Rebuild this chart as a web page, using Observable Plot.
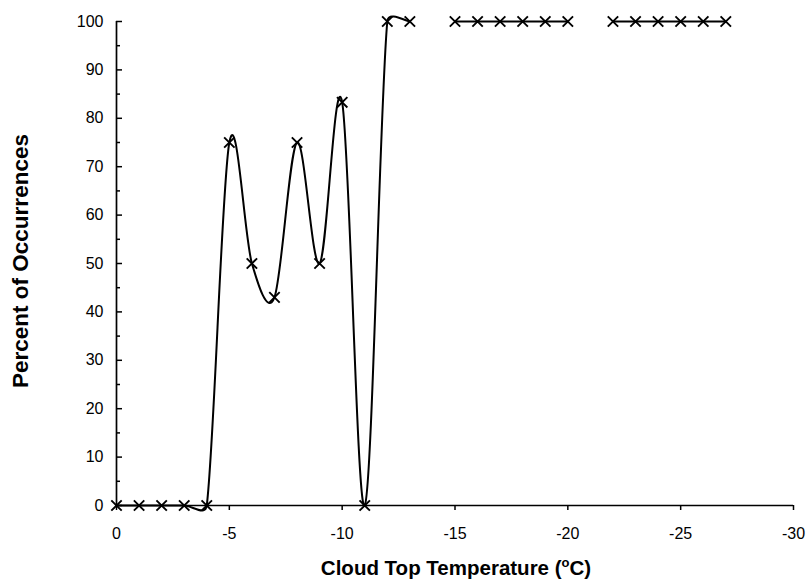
<!DOCTYPE html>
<html>
<head>
<meta charset="utf-8">
<script src="https://cdn.jsdelivr.net/npm/d3@7"></script>
<script src="https://cdn.jsdelivr.net/npm/@observablehq/plot@0.6"></script>
<style>
  html, body { margin: 0; padding: 0; background: #fff; }
  svg { display: block; }
</style>
</head>
<body>
<div id="chart"></div>
<script>
// Cloud top temperature (°C) and percent of occurrences (null = no data)
const temperatures = [0, -1, -2, -3, -4, -5, -6, -7, -8, -9, -10, -11, -12, -13, -14,
                      -15, -16, -17, -18, -19, -20, -21, -22, -23, -24, -25, -26, -27];
const percents = [0, 0, 0, 0, 0, 75, 50, 43, 75, 50, 83.3, 0, 100, 100, null,
                  100, 100, 100, 100, 100, 100, null, 100, 100, 100, 100, 100, 100];
const xTicks = [0, -5, -10, -15, -20, -25, -30];
const xTickLabels = ["0", "-5", "-10", "-15", "-20", "-25", "-30"];
const yTicks = [0, 10, 20, 30, 40, 50, 60, 70, 80, 90, 100];
const yMinorTicks = [5, 15, 25, 35, 45, 55, 65, 75, 85, 95];
const xTitle = "Cloud Top Temperature (";
const xTitleSup = "o";
const xTitleEnd = "C)";
const yTitle = "Percent of Occurrences";

const data = temperatures.map((t, i) => ({t, p: percents[i]}));
const font = "'Liberation Sans', Arial, Helvetica, sans-serif";

// Spreadsheet-style smoothed line (Bezier with 1/6 tangents, arms capped at half a segment)
function smoothCurve(context) {
  let pts = [];
  const dist = (a, b) => Math.hypot(b[0] - a[0], b[1] - a[1]);
  return {
    areaStart() {}, areaEnd() {},
    lineStart() { pts = []; },
    point(x, y) { pts.push([+x, +y]); },
    lineEnd() {
      const n = pts.length;
      if (!n) return;
      context.moveTo(pts[0][0], pts[0][1]);
      if (n === 1) { context.lineTo(pts[0][0], pts[0][1]); return; }
      for (let i = 0; i < n - 1; i++) {
        const p0 = pts[Math.max(i - 1, 0)], p1 = pts[i], p2 = pts[i + 1], p3 = pts[Math.min(i + 2, n - 1)];
        const d12 = dist(p1, p2), d02 = dist(p0, p2), d13 = dist(p1, p3);
        let f1 = 1 / 6, f2 = 1 / 6;
        if (d02 / 6 > d12 / 2 && d02 > 0) f1 = d12 / (2 * d02);
        if (d13 / 6 > d12 / 2 && d13 > 0) f2 = d12 / (2 * d13);
        const c1 = [p1[0] + f1 * (p2[0] - p0[0]), p1[1] + f1 * (p2[1] - p0[1])];
        const c2 = [p2[0] - f2 * (p3[0] - p1[0]), p2[1] - f2 * (p3[1] - p1[1])];
        context.bezierCurveTo(c1[0], c1[1], c2[0], c2[1], p2[0], p2[1]);
      }
    }
  };
}

const chart = Plot.plot({
  width: 808,
  height: 581,
  marginLeft: 116,
  marginRight: 15,
  marginTop: 21,
  marginBottom: 76,
  style: {fontFamily: font, fontSize: "16px", color: "black", background: "white"},
  x: {domain: [0, -30], label: null},
  y: {domain: [0, 100], label: null},
  marks: [
    Plot.axisX({ticks: xTicks, tickFormat: d => xTickLabels[xTicks.indexOf(d)], tickSize: 5, tickPadding: 17, strokeWidth: 1.5, fontSize: 16, label: null}),
    Plot.axisY({ticks: yTicks, tickSize: -6, text: null, strokeWidth: 1.5, label: null}),
    Plot.axisY({ticks: yMinorTicks, tickSize: -4, text: null, strokeWidth: 1.5, label: null}),
    Plot.axisY({ticks: yTicks, tickSize: 0, tickPadding: 13, fontSize: 16, label: null}),
    Plot.ruleX([0], {stroke: "black", strokeWidth: 1.7}),
    Plot.ruleY([0], {stroke: "black", strokeWidth: 1.7}),
    Plot.line(data, {x: "t", y: "p", curve: smoothCurve, stroke: "black", strokeWidth: 2}),
    Plot.dot(data, {x: "t", y: "p", symbol: "times", r: 4.8, stroke: "black", strokeWidth: 1.9})
  ]
});

const svg = d3.select(chart);
svg.append("text")
  .attr("x", 456).attr("y", 575)
  .attr("text-anchor", "middle")
  .attr("font-family", font).attr("font-weight", "bold").attr("font-size", 20.5)
  .call(t => {
    t.append("tspan").text(xTitle);
    t.append("tspan").attr("dy", -8).attr("font-size", 13).text(xTitleSup);
    t.append("tspan").attr("dy", 8).text(xTitleEnd);
  });
svg.append("text")
  .attr("transform", "translate(28,261) rotate(-90)")
  .attr("text-anchor", "middle")
  .attr("font-family", font).attr("font-weight", "bold").attr("font-size", 22.5)
  .text(yTitle);

document.getElementById("chart").appendChild(chart);
</script>
</body>
</html>
